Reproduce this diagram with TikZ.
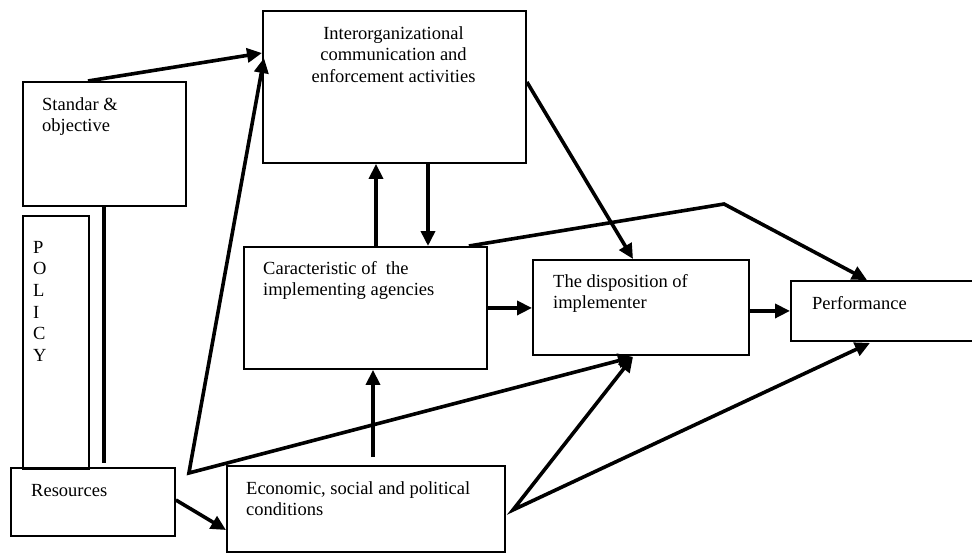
\documentclass[tikz,border=0pt]{standalone}
\usepackage{fontspec}
\setmainfont{Liberation Serif}
\usetikzlibrary{arrows.meta,calc}
\tikzset{
  box/.style={draw, line width=1.9pt, inner sep=0pt, anchor=north west},
  conn/.style={line width=3.6pt, line join=miter},
  arr/.style={conn, -{Triangle[length=15pt,width=14pt]}},
  darr/.style={conn, {Triangle[length=15pt,width=14pt]}-{Triangle[length=15pt,width=14pt]}},
  lbl/.style={inner sep=0pt, anchor=base west, font=\fontsize{18.5}{21.7}\selectfont},
  clbl/.style={inner sep=0pt, anchor=base, font=\fontsize{18.5}{21.7}\selectfont}
}
\begin{document}
\begin{tikzpicture}[x=1pt,y=-1pt]
\useasboundingbox (0,0) rectangle (972,552);
% boxes
\node[box, minimum width=163pt, minimum height=124pt] (std) at (22,81) {};
\node[box, minimum width=66pt, minimum height=253pt] (pol) at (22,215) {};
\node[box, minimum width=164pt, minimum height=68pt] (res) at (10,467) {};
\node[box, minimum width=263pt, minimum height=152pt] (inter) at (262,10) {};
\node[box, minimum width=243pt, minimum height=122pt] (car) at (243,246) {};
\node[box, minimum width=216pt, minimum height=95pt] (disp) at (532,259) {};
\node[box, minimum width=200pt, minimum height=60pt] (perf) at (790,280) {};
\node[box, minimum width=278pt, minimum height=86pt] (econ) at (226,465) {};
% texts
\node[lbl] (tstd) at (42,110) {\begin{tabular}[t]{@{}l@{}}Standar \&\\objective\end{tabular}};
\node[lbl] (tpol) at (33,253) {\begin{tabular}[t]{@{}l@{}}P\\O\\L\\I\\C\\Y\end{tabular}};
\node[lbl] (tres) at (31,496) {Resources};
\node[clbl] (tinter) at (393.5,39) {\begin{tabular}[t]{@{}c@{}}Interorganizational\\communication and\\enforcement activities\end{tabular}};
\node[lbl] (tcar) at (263,274) {\begin{tabular}[t]{@{}l@{}}Caracteristic of~ the\\implementing agencies\end{tabular}};
\node[lbl] (tdisp) at (553,287) {\begin{tabular}[t]{@{}l@{}}The disposition of\\implementer\end{tabular}};
\node[lbl] (tperf) at (812,309) {Performance};
\node[lbl] (tecon) at (246,494) {\begin{tabular}[t]{@{}l@{}}Economic, social and political\\conditions\end{tabular}};
% helper coordinates
\coordinate (rv) at ($(res.north east)+(13,6)$);
\coordinate (dispb) at ($(disp.south west)+(101,1)$);
\coordinate (econr) at ($(econ.north east)+(7,45)$);
\coordinate (c5) at ($(car.north west)+(133,0)$);
\coordinate (c6) at ($(inter.south west)+(166,0)$);
\coordinate (c11) at ($(econ.north west)+(147,-8)$);
\coordinate (kink) at (724,204);
% connectors
\draw[arr] ($(std.north west)+(66,0)$) -- ($(inter.north west)+(0,43)$);
\draw[darr] ($(inter.north west)+(2,48)$) -- (rv) -- (dispb);
\draw[arr] ($(res.north east)+(0,33)$) -- ($(econ.north west)+(0,65)$);
\draw[conn] ($(std.south west)+(82,0)$) -- ($(res.north west)+(94,-4)$);
\draw[arr] (c5) -- (c5 |- inter.south);
\draw[arr] (c6) -- (c6 |- car.north);
\draw[arr] (car.east) -- (car.east -| disp.west);
\draw[arr] (perf.west -| disp.east) -- (perf.west);
\draw[arr] ($(inter.north east)+(0,72)$) -- ($(disp.north west)+(101,0)$);
\draw[arr] ($(car.north east)+(-19,0)$) -- (kink) -- ($(perf.north west)+(77,0)$);
\draw[arr] (c11) -- (c11 |- car.south);
\draw[darr] (dispb) -- (econr) -- ($(perf.south west)+(80,1)$);
\end{tikzpicture}
\end{document}
